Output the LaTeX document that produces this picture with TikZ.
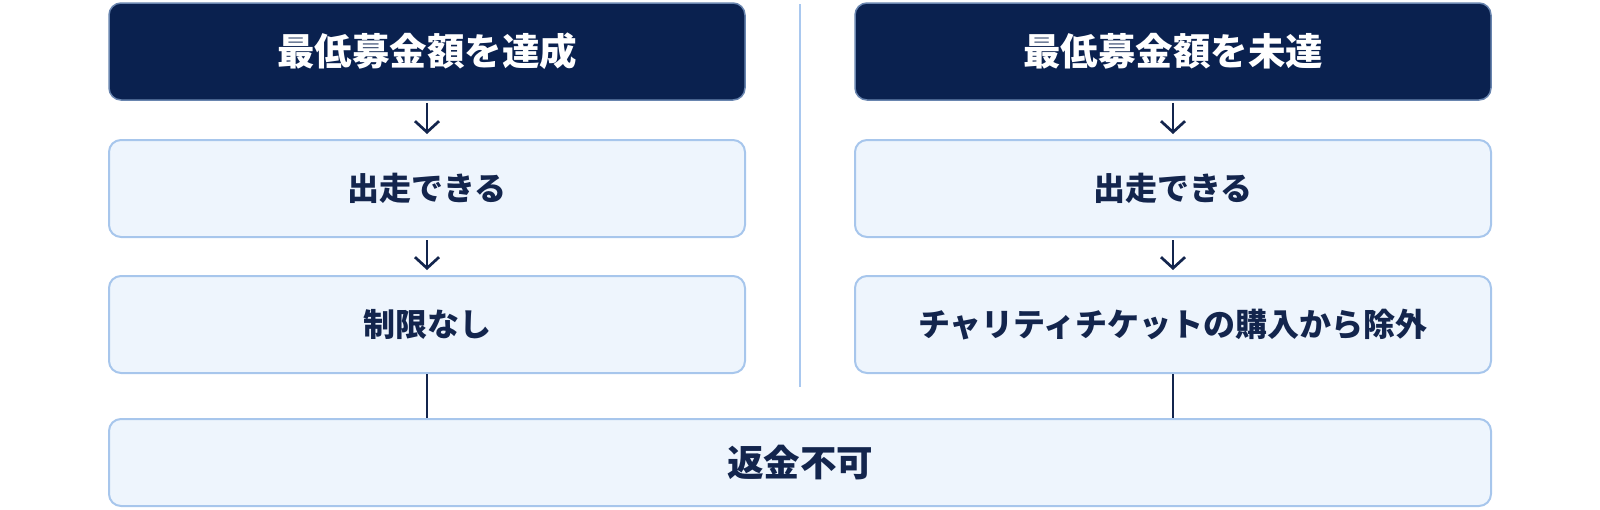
\documentclass[tikz,border=0pt]{standalone}
\usepackage{fontspec}
\setmainfont{Noto Sans CJK JP}
\usetikzlibrary{arrows.meta}
\definecolor{navy}{HTML}{0A214F}
\definecolor{ink}{HTML}{13254D}
\definecolor{lightfill}{HTML}{EEF5FD}
\definecolor{lightline}{HTML}{A7C6EC}
\definecolor{divcol}{HTML}{A9C8EF}
\tikzset{
  darkbox/.style={draw=divcol!60!navy, line width=1.5pt, fill=navy, rounded corners=12pt,
    minimum width=636pt, minimum height=97pt, text=white, font=\bfseries\fontsize{37.5}{42}\selectfont, inner sep=0pt},
  lightbox/.style={draw=lightline, line width=2pt, fill=lightfill, rounded corners=12pt,
    minimum width=636pt, minimum height=97pt, text=ink, font=\bfseries\fontsize{32}{38}\selectfont, inner sep=0pt},
  arr/.style={draw=ink, line width=2.7pt, -{Straight Barb[length=11pt,width=24pt,line width=2.7pt]}, shorten <=2pt, shorten >=5pt},
  link/.style={draw=ink, line width=2.7pt},
  divider/.style={draw=divcol, line width=1.5pt}
}
\begin{document}
\begin{tikzpicture}[x=1pt,y=-1pt]
\useasboundingbox (0,0) rectangle (1600,509);
\node[darkbox] (a1) at (427,51.5) {最低募金額を達成};
\node[darkbox] (b1) at (1173,51.5) {最低募金額を未達};
\node[lightbox] (a2) at (427,188.5) {出走できる};
\node[lightbox] (b2) at (1173,188.5) {出走できる};
\node[lightbox] (a3) at (427,324.5) {制限なし};
\node[lightbox] (b3) at (1173,324.5) {チャリティチケットの購入から除外};
\node[lightbox, minimum width=1382pt, minimum height=87pt, font=\bfseries\fontsize{36.5}{42}\selectfont] (c) at (800,462.5) {返金不可};
\coordinate (d1) at (800,4);
\coordinate (d2) at (800,387);
\draw[divider] (d1) -- (d2);
\draw[arr] (a1) -- (a2);
\draw[arr] (a2) -- (a3);
\draw[arr] (b1) -- (b2);
\draw[arr] (b2) -- (b3);
\draw[link] (a3.south) -- (a3.south |- c.north);
\draw[link] (b3.south) -- (b3.south |- c.north);
\end{tikzpicture}
\end{document}
